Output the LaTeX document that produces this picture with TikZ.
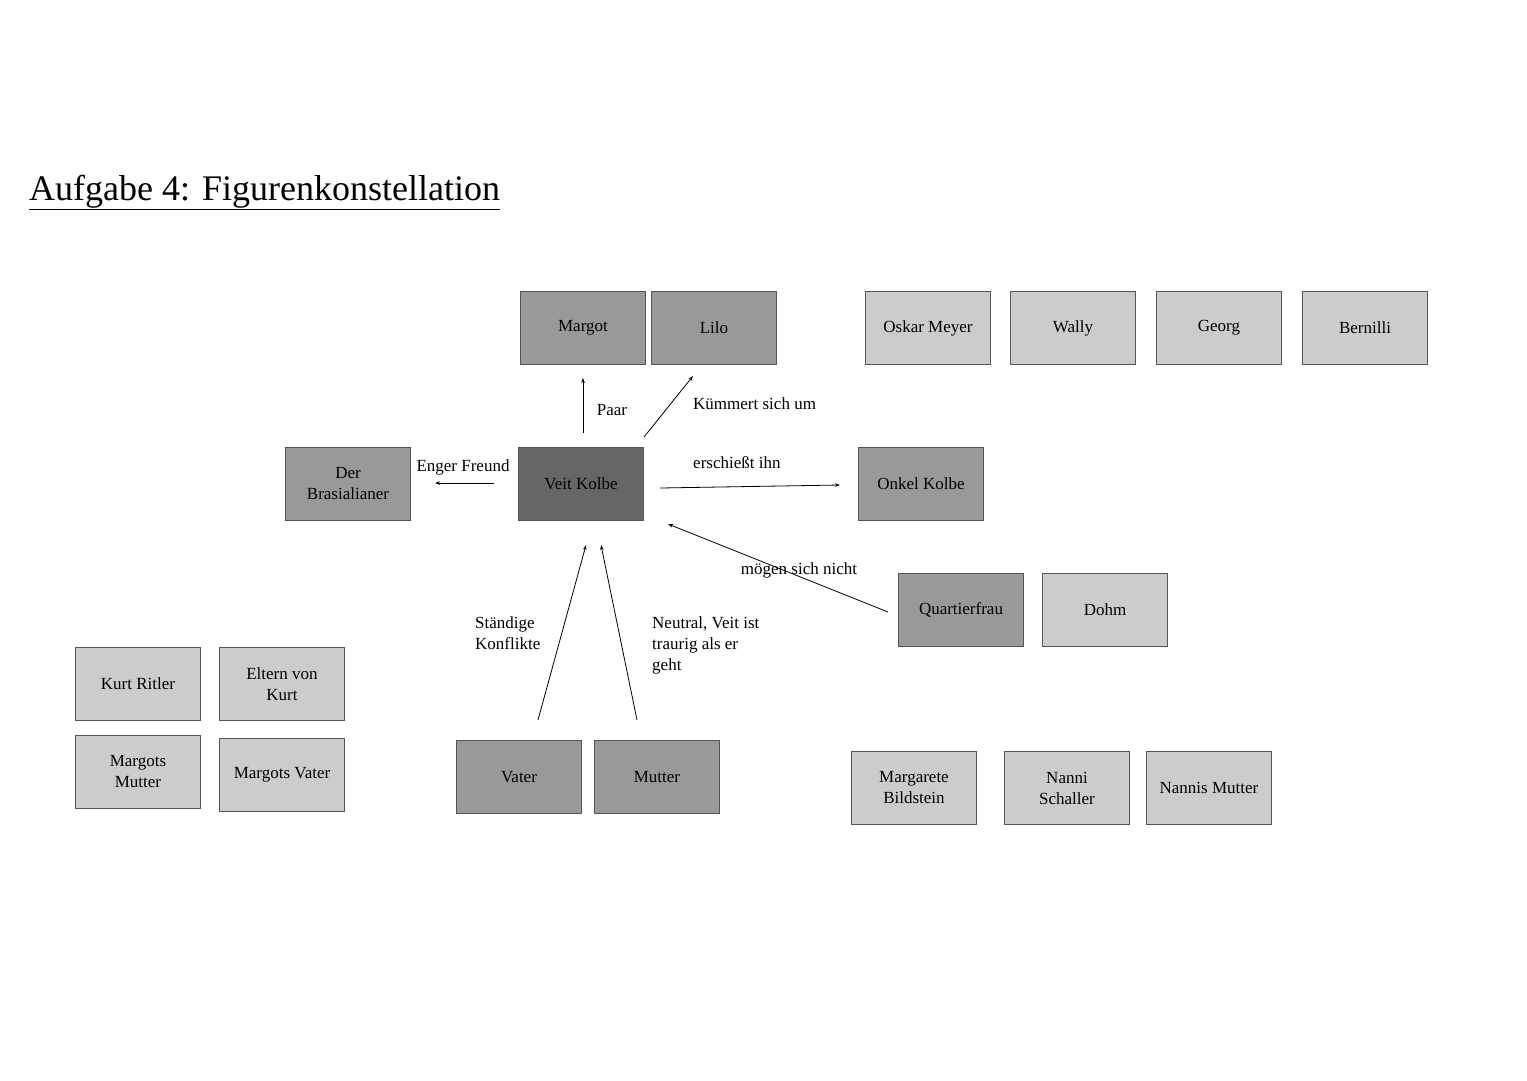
\documentclass[tikz,border=0pt]{standalone}
\usepackage{fontspec}
\setmainfont{Liberation Serif}
\usetikzlibrary{arrows.meta}
\definecolor{dk}{HTML}{666666}
\definecolor{md}{HTML}{999999}
\definecolor{lt}{HTML}{CCCCCC}
\definecolor{bd}{HTML}{555555}
\tikzset{
  box/.style={draw=bd,line width=1.2pt,minimum width=125pt,minimum height=73pt,align=center,inner sep=2pt,font=\fontsize{17}{21}\selectfont},
  lbl/.style={font=\fontsize{17}{21}\selectfont,inner sep=0pt},
  arr/.style={line width=0.8pt,-{Stealth[length=5pt,width=3.5pt]}}
}
\begin{document}
\begin{tikzpicture}[x=1pt,y=-1pt]
\useasboundingbox (0,0) rectangle (1527,1080);
\node[anchor=base west,inner sep=0pt,font=\fontsize{36}{40}\selectfont] (title) at (29,200) {\underline{Aufgabe 4: Figurenkonstellation}};
\node[box,fill=md] (margot) at (583,328) {Margot};
\node[box,fill=md] (lilo) at (714,328) {Lilo};
\node[box,fill=lt] (oskar) at (928,328) {Oskar Meyer};
\node[box,fill=lt] (wally) at (1073,328) {Wally};
\node[box,fill=lt] (georg) at (1219,328) {Georg};
\node[box,fill=lt] (bern) at (1365,328) {Bernilli};
\node[box,fill=md] (bras) at (348,484) {Der\\Brasialianer};
\node[box,fill=dk] (veit) at (581,484) {Veit Kolbe};
\node[box,fill=md] (onkel) at (921,484) {Onkel Kolbe};
\node[box,fill=md] (quart) at (961,610) {Quartierfrau};
\node[box,fill=lt] (dohm) at (1105,610) {Dohm};
\node[box,fill=lt] (kurt) at (138,684) {Kurt Ritler};
\node[box,fill=lt] (eltern) at (282,684) {Eltern von\\Kurt};
\node[box,fill=lt] (mmutter) at (138,772) {Margots\\Mutter};
\node[box,fill=lt] (mvater) at (282,775) {Margots Vater};
\node[box,fill=md] (vater) at (519,777) {Vater};
\node[box,fill=md] (mutter) at (657,777) {Mutter};
\node[box,fill=lt] (marg) at (914,788) {Margarete\\Bildstein};
\node[box,fill=lt] (nanni) at (1067,788) {Nanni\\Schaller};
\node[box,fill=lt] (nmutter) at (1209,788) {Nannis Mutter};
% connector ends
\coordinate (a1) at (583,433); \coordinate (a2) at (583,378);
\coordinate (b1) at (644,437); \coordinate (b2) at (693,376);
\coordinate (c1) at (494,483); \coordinate (c2) at (435,483);
\coordinate (d1) at (660,488); \coordinate (d2) at (840,485);
\coordinate (e1) at (888,612); \coordinate (e2) at (668,524);
\coordinate (f1) at (538,720); \coordinate (f2) at (586,545);
\coordinate (g1) at (637,720); \coordinate (g2) at (601,545);
\draw[arr] (a1) -- (a2);
\draw[arr] (b1) -- (b2);
\draw[arr] (c1) -- (c2);
\draw[arr] (d1) -- (d2);
\draw[arr] (e1) -- (e2);
\draw[arr] (f1) -- (f2);
\draw[arr] (g1) -- (g2);
\node[lbl] (l1) at (612,410) {Paar};
\node[lbl,anchor=west] (l2) at (693,404) {Kümmert sich um};
\node[lbl] (l3) at (463,467) {Enger Freund};
\node[lbl,anchor=west] (l4) at (693,463) {erschießt ihn};
\node[lbl] (l5) at (799,570) {mögen sich nicht};
\node[lbl,anchor=north west,align=left] (l6) at (475,616) {Ständige\\Konflikte};
\node[lbl,anchor=north west,align=left] (l7) at (652,616) {Neutral, Veit ist\\traurig als er\\geht};
\end{tikzpicture}
\end{document}
